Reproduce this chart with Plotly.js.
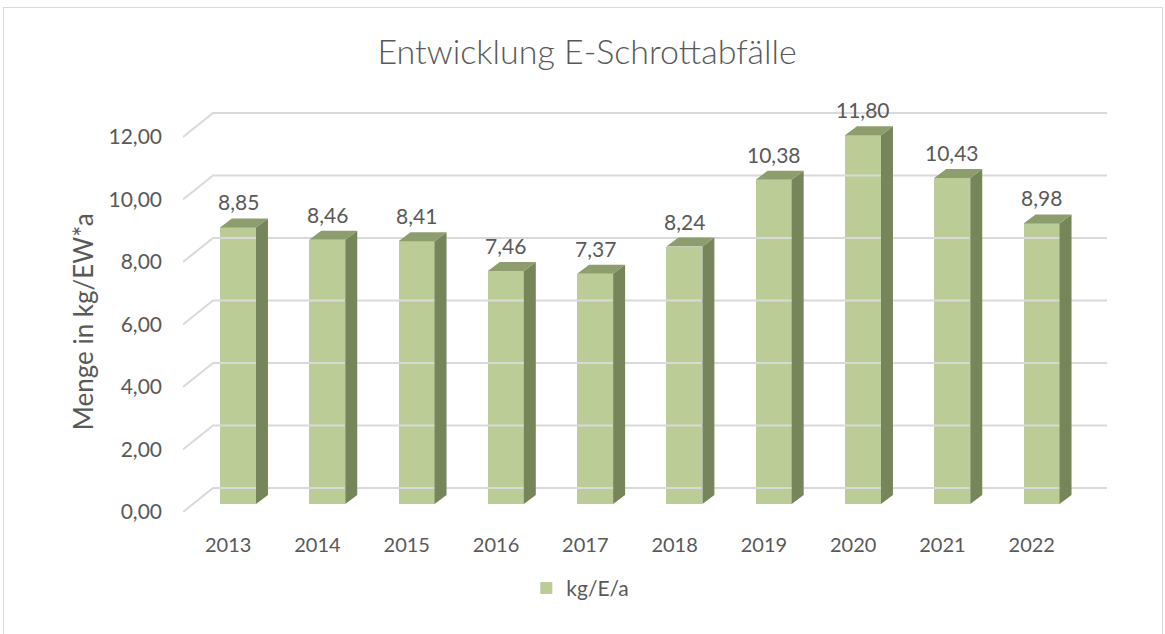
<!DOCTYPE html>
<html>
<head>
<meta charset="utf-8">
<script src="https://cdn.plot.ly/plotly-3.0.1.min.js"></script>
<style>
  html, body { margin: 0; padding: 0; background: #ffffff; }
  #wrap { position: relative; width: 1165px; height: 634px; overflow: hidden; }
  #chart { width: 1165px; height: 634px; }
  #frame { position: absolute; left: 3px; top: 7px; width: 1158px; height: 660px;
           border: 1px solid #d9d9d9; pointer-events: none; }
</style>
</head>
<body>
<div id="wrap"><div id="chart"></div><div id="frame"></div></div>
<script>
// ---- data ----
const years  = ["2013","2014","2015","2016","2017","2018","2019","2020","2021","2022"];
const values = [8.85, 8.46, 8.41, 7.46, 7.37, 8.24, 10.38, 11.80, 10.43, 8.98];
const seriesName = "kg/E/a";
const yTicks = [0, 2, 4, 6, 8, 10, 12];
const yTitle = "Menge in kg/EW*a";
const chartTitle = "Entwicklung E-Schrottabfälle";

// ---- pseudo-3D geometry (in axis units) ----
const halfW = 0.2016;     // half bar width
const dX = 0.134, dY = 0.288;   // bar depth offset
const base = 0.256;       // bar front face base (raised by depth)
const wallDX = 0.336, wallDY = 0.768; // back wall offset
const xMin = -0.616, xMax = 9.733;
const yMin = 0, yMax = 12.864;

const FRONT = "#bbcc96", SIDE = "#76855a", TOP = "#8e9d6d";
const TEXT = "#595959", GRID = "#d9d9d9";
const FONT = "Lato, 'Open Sans', sans-serif";

const fmt = v => v.toFixed(2).replace(".", ",");
const idx = years.map((_, i) => i);

// front faces as bars
const front = {
  type: "bar", x: idx, y: values, base: values.map(() => base),
  width: 2 * halfW, name: seriesName,
  marker: { color: FRONT, line: { width: 0 } },
  hoverinfo: "skip"
};

// side and top faces
const sx = [], sy = [], tx = [], ty = [];
values.forEach((v, i) => {
  const xl = i - halfW, xr = i + halfW, top = v + base;
  sx.push(xr, xr + dX, xr + dX, xr, xr, null);
  sy.push(base, base + dY, top + dY, top, base, null);
  tx.push(xl, xl + dX, xr + dX, xr, xl, null);
  ty.push(top, top + dY, top + dY, top, top, null);
});
const side = { type: "scatter", mode: "lines", x: sx, y: sy, fill: "toself",
  fillcolor: SIDE, line: { width: 0, color: SIDE }, showlegend: false, hoverinfo: "skip" };
const topF = { type: "scatter", mode: "lines", x: tx, y: ty, fill: "toself",
  fillcolor: TOP, line: { width: 0, color: TOP }, showlegend: false, hoverinfo: "skip" };

// gridlines on back wall + diagonal on side wall
const gx = [], gy = [];
yTicks.forEach(t => {
  gx.push(xMin, xMin + wallDX, xMax, null);
  gy.push(t, t + wallDY, t + wallDY, null);
});
const grid = { type: "scatter", mode: "lines", x: gx, y: gy,
  line: { color: GRID, width: 2 }, showlegend: false, hoverinfo: "skip", cliponaxis: false };

// value labels
const annotations = values.map((v, i) => ({
  x: i, y: v + base + dY, text: fmt(v), showarrow: false,
  yanchor: "bottom", yshift: 2,
  font: { family: FONT, size: 21, color: TEXT }
}));
annotations.push({
  xref: "paper", yref: "paper", x: -0.108, y: 0.4726, text: yTitle, textangle: -90,
  showarrow: false, xanchor: "center", yanchor: "middle",
  font: { family: FONT, size: 26, color: TEXT }
});

const layout = {
  width: 1165, height: 634,
  paper_bgcolor: "#ffffff", plot_bgcolor: "#ffffff",
  margin: { l: 183, r: 58, t: 110, b: 122 },
  title: { text: chartTitle, xref: "container", x: 0.504,
    yref: "container", y: 0.918, xanchor: "center", yanchor: "middle",
    font: { family: FONT, size: 34, color: TEXT, weight: 300 } },
  xaxis: { range: [xMin, xMax], tickvals: idx.map(i => i - 0.11), ticktext: years,
    showgrid: false, zeroline: false, showline: false, ticks: "",
    ticklabelstandoff: 19, tickfont: { family: FONT, size: 20, color: TEXT }, fixedrange: true },
  yaxis: { range: [yMin, yMax], tickvals: yTicks, ticktext: yTicks.map(fmt),
    showgrid: false, zeroline: false, showline: false, ticks: "",
    ticklabelstandoff: 20,
    tickfont: { family: FONT, size: 21, color: TEXT }, fixedrange: true },
  showlegend: true,
  legend: { orientation: "h", x: 0.43, xanchor: "center", y: -0.19, yanchor: "middle",
    font: { family: FONT, size: 21, color: TEXT }, itemwidth: 30 },
  annotations: annotations,
  bargap: 0
};

Plotly.newPlot("chart", [grid, front, side, topF], layout, { staticPlot: true, displayModeBar: false });
</script>
</body>
</html>
